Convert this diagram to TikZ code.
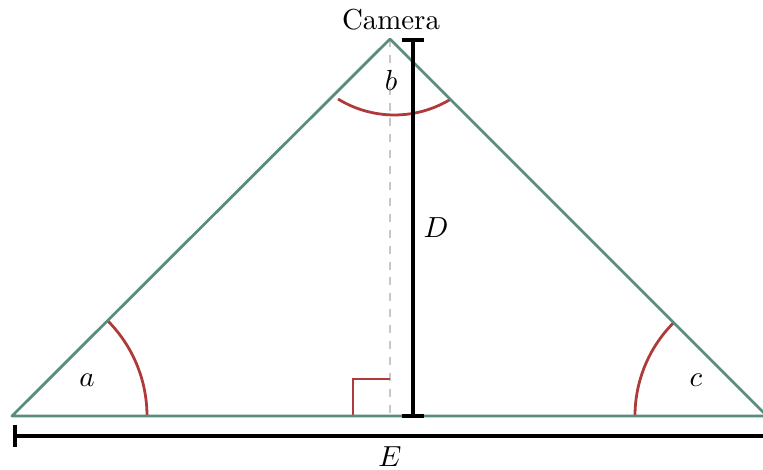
\documentclass[tikz,border=0pt]{standalone}
\usepackage{xcolor}
\definecolor{tri}{RGB}{88,140,124}
\definecolor{ang}{RGB}{175,58,58}
\definecolor{dsh}{RGB}{200,200,200}
\begin{document}
\begin{tikzpicture}[x=0.3774pt,y=-0.3774pt,
  side/.style={draw=tri,line width=1.05pt},
  anglemark/.style={draw=ang,line width=1.05pt},
  dim/.style={draw=black,line width=1.2pt},
  lbl/.style={inner sep=0pt,font=\fontsize{10.9}{13}\selectfont}]
\useasboundingbox (0,0) rectangle (763,470);
\begin{scope}
\clip (0,0) rectangle (763,470);
\coordinate (L) at (12,416);
\coordinate (T) at (390,39);
\coordinate (R) at (767,416);
\coordinate (F) at (390,416);
% dashed altitude
\draw[dsh,line width=1.05pt,dashed] (T) -- (F);
% right angle mark
\coordinate (ra1) at (353,416);
\coordinate (ra2) at (353,379);
\coordinate (ra3) at (390,379);
\draw[anglemark] (ra1) -- (ra2) -- (ra3);
% angle arcs
\draw[anglemark] ([xshift=135*0.3774pt]L) arc[start angle=0,end angle=45,radius=135*0.3774pt];
\draw[anglemark] ([xshift=-132*0.3774pt]R) arc[start angle=180,end angle=135,radius=132*0.3774pt];
\coordinate (bA) at (338,99);
\draw[anglemark] (bA) arc[start angle=238.4,end angle=301.6,radius=107.8*0.3774pt];
% triangle
\draw[side,line join=round] (L) -- (T) -- (R) -- cycle;
% D dimension
\coordinate (Dt) at (413,40);
\coordinate (Db) at (413,416);
\draw[dim] (Dt) -- (Db);
\draw[dim] ([xshift=-11*0.3774pt]Dt) -- ([xshift=11*0.3774pt]Dt);
\draw[dim] ([xshift=-11*0.3774pt]Db) -- ([xshift=11*0.3774pt]Db);
% E dimension
\coordinate (El) at (15,436);
\coordinate (Er) at (800,436);
\draw[dim] (El) -- (Er);
\draw[dim] ([yshift=11*0.3774pt]El) -- ([yshift=-11*0.3774pt]El);
\end{scope}
% labels
\node[lbl] (cam) at (391,20) {Camera};
\node[lbl] (la) at (87,380) {$a$};
\node[lbl] (lb) at (391,80) {$b$};
\node[lbl] (lc) at (696,380) {$c$};
\node[lbl] (lD) at (436,228) {$D$};
\node[lbl] (lE) at (390,457) {$E$};
\end{tikzpicture}
\end{document}
